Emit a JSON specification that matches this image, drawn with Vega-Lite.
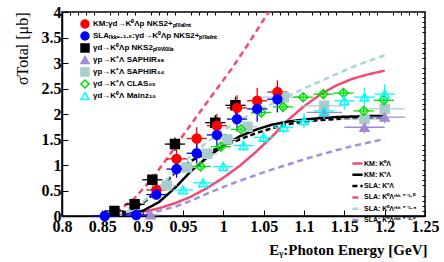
{
  "$schema": "https://vega.github.io/schema/vega-lite/v6.json",
  "width": 363,
  "height": 204,
  "autosize": {"type": "none"},
  "padding": {"left": 62, "top": 12, "right": 19, "bottom": 46},
  "background": "white",
  "config": {
    "view": {"stroke": "#000", "strokeWidth": 1.5},
    "axis": {"domainColor": "#000", "domainWidth": 1.5, "tickColor": "#000", "tickWidth": 1, "grid": false, "labelColor": "#000", "titleColor": "#000"},
    "legend": {"labelFont": "Liberation Sans", "labelFontWeight": "bold", "labelColor": "#000", "padding": 0}
  },
  "datasets": {
    "curves": [
      {"m": "KM0", "x": 0.855, "y": 0}, {"m": "KM0", "x": 0.88, "y": 0.03}, {"m": "KM0", "x": 0.9, "y": 0.08}, {"m": "KM0", "x": 0.92, "y": 0.15}, {"m": "KM0", "x": 0.94, "y": 0.25}, {"m": "KM0", "x": 0.96, "y": 0.38}, {"m": "KM0", "x": 0.98, "y": 0.55}, {"m": "KM0", "x": 1.0, "y": 0.75}, {"m": "KM0", "x": 1.02, "y": 0.98}, {"m": "KM0", "x": 1.04, "y": 1.25}, {"m": "KM0", "x": 1.06, "y": 1.55}, {"m": "KM0", "x": 1.08, "y": 1.88}, {"m": "KM0", "x": 1.1, "y": 2.15}, {"m": "KM0", "x": 1.12, "y": 2.38}, {"m": "KM0", "x": 1.14, "y": 2.56}, {"m": "KM0", "x": 1.16, "y": 2.69}, {"m": "KM0", "x": 1.18, "y": 2.78}, {"m": "KM0", "x": 1.2, "y": 2.85},
      {"m": "KMp", "x": 0.855, "y": 0}, {"m": "KMp", "x": 0.88, "y": 0.03}, {"m": "KMp", "x": 0.9, "y": 0.1}, {"m": "KMp", "x": 0.92, "y": 0.27}, {"m": "KMp", "x": 0.94, "y": 0.55}, {"m": "KMp", "x": 0.96, "y": 0.88}, {"m": "KMp", "x": 0.98, "y": 1.15}, {"m": "KMp", "x": 1.0, "y": 1.38}, {"m": "KMp", "x": 1.02, "y": 1.56}, {"m": "KMp", "x": 1.04, "y": 1.69}, {"m": "KMp", "x": 1.06, "y": 1.79}, {"m": "KMp", "x": 1.08, "y": 1.85}, {"m": "KMp", "x": 1.1, "y": 1.89}, {"m": "KMp", "x": 1.12, "y": 1.92}, {"m": "KMp", "x": 1.14, "y": 1.94}, {"m": "KMp", "x": 1.16, "y": 1.95}, {"m": "KMp", "x": 1.18, "y": 1.96}, {"m": "KMp", "x": 1.2, "y": 1.96},
      {"m": "SLAp", "x": 0.855, "y": 0}, {"m": "SLAp", "x": 0.88, "y": 0.08}, {"m": "SLAp", "x": 0.9, "y": 0.25}, {"m": "SLAp", "x": 0.92, "y": 0.52}, {"m": "SLAp", "x": 0.94, "y": 0.85}, {"m": "SLAp", "x": 0.96, "y": 1.08}, {"m": "SLAp", "x": 0.98, "y": 1.24}, {"m": "SLAp", "x": 1.0, "y": 1.37}, {"m": "SLAp", "x": 1.02, "y": 1.5}, {"m": "SLAp", "x": 1.04, "y": 1.62}, {"m": "SLAp", "x": 1.06, "y": 1.72}, {"m": "SLAp", "x": 1.08, "y": 1.8}, {"m": "SLAp", "x": 1.1, "y": 1.85}, {"m": "SLAp", "x": 1.12, "y": 1.88}, {"m": "SLAp", "x": 1.14, "y": 1.9}, {"m": "SLAp", "x": 1.16, "y": 1.92}, {"m": "SLAp", "x": 1.18, "y": 1.93}, {"m": "SLAp", "x": 1.2, "y": 1.93},
      {"m": "S10", "x": 0.855, "y": 0}, {"m": "S10", "x": 0.87, "y": 0.1}, {"m": "S10", "x": 0.89, "y": 0.35}, {"m": "S10", "x": 0.91, "y": 0.7}, {"m": "S10", "x": 0.93, "y": 1.12}, {"m": "S10", "x": 0.95, "y": 1.58}, {"m": "S10", "x": 0.97, "y": 2.02}, {"m": "S10", "x": 0.99, "y": 2.45}, {"m": "S10", "x": 1.01, "y": 2.88}, {"m": "S10", "x": 1.03, "y": 3.35}, {"m": "S10", "x": 1.05, "y": 3.85}, {"m": "S10", "x": 1.07, "y": 4.3},
      {"m": "S15", "x": 0.855, "y": 0}, {"m": "S15", "x": 0.88, "y": 0.08}, {"m": "S15", "x": 0.9, "y": 0.27}, {"m": "S15", "x": 0.92, "y": 0.55}, {"m": "S15", "x": 0.94, "y": 0.88}, {"m": "S15", "x": 0.96, "y": 1.18}, {"m": "S15", "x": 0.98, "y": 1.45}, {"m": "S15", "x": 1.0, "y": 1.68}, {"m": "S15", "x": 1.02, "y": 1.88}, {"m": "S15", "x": 1.04, "y": 2.05}, {"m": "S15", "x": 1.06, "y": 2.2}, {"m": "S15", "x": 1.08, "y": 2.35}, {"m": "S15", "x": 1.1, "y": 2.5}, {"m": "S15", "x": 1.12, "y": 2.64}, {"m": "S15", "x": 1.14, "y": 2.78}, {"m": "S15", "x": 1.16, "y": 2.92}, {"m": "S15", "x": 1.18, "y": 3.04}, {"m": "S15", "x": 1.2, "y": 3.15},
      {"m": "S20", "x": 0.855, "y": 0}, {"m": "S20", "x": 0.88, "y": 0.02}, {"m": "S20", "x": 0.9, "y": 0.05}, {"m": "S20", "x": 0.92, "y": 0.1}, {"m": "S20", "x": 0.94, "y": 0.18}, {"m": "S20", "x": 0.96, "y": 0.3}, {"m": "S20", "x": 0.98, "y": 0.44}, {"m": "S20", "x": 1.0, "y": 0.57}, {"m": "S20", "x": 1.02, "y": 0.69}, {"m": "S20", "x": 1.04, "y": 0.8}, {"m": "S20", "x": 1.06, "y": 0.91}, {"m": "S20", "x": 1.08, "y": 1.01}, {"m": "S20", "x": 1.1, "y": 1.11}, {"m": "S20", "x": 1.12, "y": 1.2}, {"m": "S20", "x": 1.14, "y": 1.29}, {"m": "S20", "x": 1.16, "y": 1.37}, {"m": "S20", "x": 1.18, "y": 1.44}, {"m": "S20", "x": 1.2, "y": 1.51}
    ],
    "pts": [
      {"s": "S04", "x": 0.93, "y": 0.6, "ylo": 0.52, "yhi": 0.68, "xlo": 0.9175, "xhi": 0.9425},
      {"s": "S04", "x": 0.955, "y": 0.95, "ylo": 0.87, "yhi": 1.03, "xlo": 0.9425, "xhi": 0.9675},
      {"s": "S04", "x": 0.98, "y": 1.22, "ylo": 1.14, "yhi": 1.3, "xlo": 0.9675, "xhi": 0.9925},
      {"s": "S04", "x": 1.005, "y": 1.5, "ylo": 1.42, "yhi": 1.58, "xlo": 0.9925, "xhi": 1.0175},
      {"s": "S04", "x": 1.03, "y": 1.75, "ylo": 1.67, "yhi": 1.83, "xlo": 1.0175, "xhi": 1.0425},
      {"s": "S04", "x": 1.075, "y": 2.33, "ylo": 2.23, "yhi": 2.43, "xlo": 1.045, "xhi": 1.105},
      {"s": "S04", "x": 1.125, "y": 2.16, "ylo": 2.06, "yhi": 2.26, "xlo": 1.095, "xhi": 1.155},
      {"s": "S04", "x": 1.175, "y": 1.9, "ylo": 1.8, "yhi": 2.0, "xlo": 1.145, "xhi": 1.205},
      {"s": "S04", "x": 1.2, "y": 2.1, "ylo": 2.0, "yhi": 2.2, "xlo": 1.175, "xhi": 1.225},
      {"s": "S98", "x": 0.91, "y": 0.02, "ylo": 0.0, "yhi": 0.04, "xlo": 0.9, "xhi": 0.92},
      {"s": "S98", "x": 1.125, "y": 2.03, "ylo": 1.93, "yhi": 2.13, "xlo": 1.103, "xhi": 1.147},
      {"s": "S98", "x": 1.175, "y": 1.74, "ylo": 1.62, "yhi": 1.86, "xlo": 1.15, "xhi": 1.2},
      {"s": "S98", "x": 1.2, "y": 1.94, "ylo": 1.82, "yhi": 2.06, "xlo": 1.175, "xhi": 1.225},
      {"s": "C05", "x": 0.972, "y": 0.97, "ylo": 0.91, "yhi": 1.03, "xlo": 0.9595, "xhi": 0.9845},
      {"s": "C05", "x": 0.997, "y": 1.36, "ylo": 1.3, "yhi": 1.42, "xlo": 0.9845, "xhi": 1.0095},
      {"s": "C05", "x": 1.022, "y": 1.7, "ylo": 1.64, "yhi": 1.76, "xlo": 1.0095, "xhi": 1.0345},
      {"s": "C05", "x": 1.047, "y": 2.03, "ylo": 1.97, "yhi": 2.09, "xlo": 1.0345, "xhi": 1.0595},
      {"s": "C05", "x": 1.074, "y": 2.14, "ylo": 2.08, "yhi": 2.2, "xlo": 1.0615, "xhi": 1.0865},
      {"s": "C05", "x": 1.099, "y": 2.33, "ylo": 2.27, "yhi": 2.39, "xlo": 1.0865, "xhi": 1.1115},
      {"s": "C05", "x": 1.124, "y": 2.39, "ylo": 2.33, "yhi": 2.45, "xlo": 1.1115, "xhi": 1.1365},
      {"s": "C05", "x": 1.149, "y": 2.41, "ylo": 2.35, "yhi": 2.47, "xlo": 1.1365, "xhi": 1.1615},
      {"s": "C05", "x": 1.174, "y": 2.06, "ylo": 2.0, "yhi": 2.12, "xlo": 1.1615, "xhi": 1.1865},
      {"s": "C05", "x": 1.199, "y": 2.27, "ylo": 2.2, "yhi": 2.34, "xlo": 1.1865, "xhi": 1.2115},
      {"s": "M10", "x": 0.95, "y": 0.51, "ylo": 0.43, "yhi": 0.59, "xlo": 0.9375, "xhi": 0.9625},
      {"s": "M10", "x": 0.975, "y": 0.65, "ylo": 0.57, "yhi": 0.73, "xlo": 0.9625, "xhi": 0.9875},
      {"s": "M10", "x": 1.0, "y": 0.97, "ylo": 0.88, "yhi": 1.06, "xlo": 0.9875, "xhi": 1.0125},
      {"s": "M10", "x": 1.025, "y": 1.38, "ylo": 1.28, "yhi": 1.48, "xlo": 1.0125, "xhi": 1.0375},
      {"s": "M10", "x": 1.05, "y": 1.54, "ylo": 1.43, "yhi": 1.65, "xlo": 1.0375, "xhi": 1.0625},
      {"s": "M10", "x": 1.075, "y": 1.74, "ylo": 1.62, "yhi": 1.86, "xlo": 1.0625, "xhi": 1.0875},
      {"s": "M10", "x": 1.1, "y": 1.87, "ylo": 1.72, "yhi": 2.02, "xlo": 1.0875, "xhi": 1.1125},
      {"s": "M10", "x": 1.125, "y": 2.06, "ylo": 1.9, "yhi": 2.22, "xlo": 1.1125, "xhi": 1.1375},
      {"s": "M10", "x": 1.15, "y": 2.26, "ylo": 2.08, "yhi": 2.44, "xlo": 1.1375, "xhi": 1.1625},
      {"s": "M10", "x": 1.175, "y": 2.33, "ylo": 2.15, "yhi": 2.51, "xlo": 1.1625, "xhi": 1.1875},
      {"s": "M10", "x": 1.2, "y": 2.39, "ylo": 2.2, "yhi": 2.58, "xlo": 1.1875, "xhi": 1.2125},
      {"s": "N2", "x": 0.865, "y": 0.1, "ylo": 0.05, "yhi": 0.15, "xlo": 0.8525, "xhi": 0.8775},
      {"s": "N2", "x": 0.89, "y": 0.23, "ylo": 0.15, "yhi": 0.31, "xlo": 0.8775, "xhi": 0.9025},
      {"s": "N2", "x": 0.912, "y": 0.71, "ylo": 0.6, "yhi": 0.82, "xlo": 0.8995, "xhi": 0.9245},
      {"s": "N2", "x": 0.94, "y": 1.41, "ylo": 1.28, "yhi": 1.54, "xlo": 0.9275, "xhi": 0.9525},
      {"s": "N2", "x": 0.99, "y": 1.83, "ylo": 1.68, "yhi": 1.98, "xlo": 0.9775, "xhi": 1.0025},
      {"s": "N2", "x": 1.015, "y": 2.17, "ylo": 2.0, "yhi": 2.34, "xlo": 1.0025, "xhi": 1.0275},
      {"s": "KM", "x": 0.917, "y": 0.51, "ylo": 0.33, "yhi": 0.69, "xlo": 0.9045, "xhi": 0.9295},
      {"s": "KM", "x": 0.942, "y": 1.12, "ylo": 0.92, "yhi": 1.32, "xlo": 0.9295, "xhi": 0.9545},
      {"s": "KM", "x": 0.967, "y": 1.52, "ylo": 1.3, "yhi": 1.74, "xlo": 0.9545, "xhi": 0.9795},
      {"s": "KM", "x": 0.992, "y": 1.77, "ylo": 1.54, "yhi": 2.0, "xlo": 0.9795, "xhi": 1.0045},
      {"s": "KM", "x": 1.017, "y": 2.12, "ylo": 1.87, "yhi": 2.37, "xlo": 1.0045, "xhi": 1.0295},
      {"s": "KM", "x": 1.042, "y": 2.26, "ylo": 2.01, "yhi": 2.51, "xlo": 1.0295, "xhi": 1.0545},
      {"s": "KM", "x": 1.067, "y": 2.43, "ylo": 2.17, "yhi": 2.66, "xlo": 1.0545, "xhi": 1.0795},
      {"s": "SLA", "x": 0.853, "y": 0.0, "ylo": 0.0, "yhi": 0.03, "xlo": 0.8365, "xhi": 0.8695},
      {"s": "SLA", "x": 0.892, "y": 0.02, "ylo": 0.0, "yhi": 0.05, "xlo": 0.877, "xhi": 0.907},
      {"s": "SLA", "x": 0.917, "y": 0.42, "ylo": 0.32, "yhi": 0.52, "xlo": 0.9045, "xhi": 0.9295},
      {"s": "SLA", "x": 0.942, "y": 0.92, "ylo": 0.75, "yhi": 1.09, "xlo": 0.9295, "xhi": 0.9545},
      {"s": "SLA", "x": 0.967, "y": 1.23, "ylo": 1.03, "yhi": 1.43, "xlo": 0.9545, "xhi": 0.9795},
      {"s": "SLA", "x": 0.992, "y": 1.59, "ylo": 1.37, "yhi": 1.81, "xlo": 0.9795, "xhi": 1.0045},
      {"s": "SLA", "x": 1.017, "y": 1.9, "ylo": 1.66, "yhi": 2.14, "xlo": 1.0045, "xhi": 1.0295},
      {"s": "SLA", "x": 1.042, "y": 2.1, "ylo": 1.85, "yhi": 2.35, "xlo": 1.0295, "xhi": 1.0545},
      {"s": "SLA", "x": 1.067, "y": 2.29, "ylo": 2.03, "yhi": 2.55, "xlo": 1.0545, "xhi": 1.0795}
    ]
  },
  "data": {"name": "pts"},
  "layer": [
    {
      "data": {"name": "curves"},
      "mark": {"type": "line", "strokeWidth": 2.5, "clip": true},
      "encoding": {
        "x": {"field": "x", "type": "quantitative", "scale": {"domain": [0.8, 1.25], "nice": false, "zero": false},
          "axis": {"values": [0.8, 0.85, 0.9, 0.95, 1.0, 1.05, 1.1, 1.15, 1.2, 1.25], "format": ".2~f", "tickSize": -6, "labelPadding": 8, "labelFont": "Liberation Serif", "labelFontWeight": "bold", "labelFontSize": 16, "labelFlush": false, "labelOverlap": false,
            "title": "Eᵧ:Photon Energy [GeV]", "titleFont": "Liberation Serif", "titleFontSize": 15, "titleFontWeight": "bold", "titleAlign": "right", "titleAnchor": "end", "titleX": 365, "titleY": 38, "titleBaseline": "alphabetic"}},
        "y": {"field": "y", "type": "quantitative", "scale": {"domain": [0, 4], "nice": false, "zero": false},
          "axis": {"values": [0, 0.5, 1, 1.5, 2, 2.5, 3, 3.5, 4], "format": ".1~f", "tickSize": -6, "labelPadding": 7, "labelFont": "Liberation Serif", "labelFontWeight": "bold", "labelFontSize": 16, "labelFlush": false, "labelOverlap": false,
            "title": "σTotal [μb]", "titleFont": "Liberation Serif", "titleFontSize": 16, "titleFontWeight": "normal", "titleAngle": 270, "titleAlign": "right", "titleAnchor": "end", "titleX": -40, "titleY": 0, "titleBaseline": "middle"}},
        "color": {"field": "m", "type": "nominal",
          "scale": {"domain": ["KM0", "KMp", "SLAp", "S10", "S15", "S20"], "range": ["#f24a72", "#000000", "#000000", "#f24a72", "#a9d6d6", "#a58fdc"]},
          "legend": {"orient": "none", "legendX": 291, "legendY": 147, "title": null, "symbolType": "M-1.7,0H1.7", "symbolSize": 36, "symbolStrokeWidth": 2.5, "labelFontSize": 7, "rowPadding": 0.3, "labelOffset": 2,
            "labelExpr": "{'KM0':'KM: K⁰Λ','KMp':'KM: K⁺Λ','SLAp':'SLA: K⁺Λ','S10':'SLA: K⁰Λʳᵏᵏ ⁼ ⁻¹·⁰','S15':'SLA: K⁰Λʳᵏᵏ ⁼ ⁻¹·⁵','S20':'SLA: K⁰Λʳᵏᵏ ⁼ ⁻²·⁰'}[datum.label]"}},
        "strokeDash": {"field": "m", "type": "nominal",
          "scale": {"domain": ["KM0", "KMp", "SLAp", "S10", "S15", "S20"], "range": [[1, 0], [1, 0], [5, 3], [6, 4], [6, 4], [6, 4]]},
          "legend": {"orient": "none", "legendX": 291, "legendY": 147, "title": null, "symbolType": "M-1.7,0H1.7", "symbolSize": 36, "symbolStrokeWidth": 2.5, "labelFontSize": 7, "rowPadding": 0.3, "labelOffset": 2,
            "labelExpr": "{'KM0':'KM: K⁰Λ','KMp':'KM: K⁺Λ','SLAp':'SLA: K⁺Λ','S10':'SLA: K⁰Λʳᵏᵏ ⁼ ⁻¹·⁰','S15':'SLA: K⁰Λʳᵏᵏ ⁼ ⁻¹·⁵','S20':'SLA: K⁰Λʳᵏᵏ ⁼ ⁻²·⁰'}[datum.label]"}}
      }
    },
    {
      "mark": {"type": "rule", "strokeWidth": 1.3},
      "encoding": {
        "x": {"field": "x", "type": "quantitative", "axis": null},
        "y": {"field": "ylo", "type": "quantitative", "axis": null},
        "y2": {"field": "yhi"},
        "stroke": {"field": "s", "type": "nominal",
          "legend": {"orient": "none", "legendX": 18, "legendY": 7, "title": null, "symbolSize": 64, "symbolStrokeWidth": 1.5, "labelFontSize": 8, "rowPadding": -2.5, "labelOffset": 3,
            "labelExpr": "{'KM':'KM:γd→K⁰Λp NKS2+ₚᵣₑₛₑₙₜ','SLA':'SLAᵣₖₖ₌₋₁.₅:γd→K⁰Λp NKS2+ₚᵣₑₛₑₙₜ','N2':'γd→K⁰Λp NKS2ₚᵣₑᵥᵢₒᵤₛ','S98':'γp→K⁺Λ SAPHIR₉₈','S04':'γp→K⁺Λ SAPHIR₀₄','C05':'γd→K⁺Λ CLAS₀₅','M10':'γd→K⁰Λ Mainz₁₀'}[datum.label]"}}
      }
    },
    {
      "mark": {"type": "rule", "strokeWidth": 1.3},
      "encoding": {
        "x": {"field": "xlo", "type": "quantitative", "axis": null},
        "x2": {"field": "xhi"},
        "y": {"field": "y", "type": "quantitative", "axis": null},
        "stroke": {"field": "s", "type": "nominal",
          "legend": {"orient": "none", "legendX": 18, "legendY": 7, "title": null, "symbolSize": 64, "symbolStrokeWidth": 1.5, "labelFontSize": 8, "rowPadding": -2.5, "labelOffset": 3,
            "labelExpr": "{'KM':'KM:γd→K⁰Λp NKS2+ₚᵣₑₛₑₙₜ','SLA':'SLAᵣₖₖ₌₋₁.₅:γd→K⁰Λp NKS2+ₚᵣₑₛₑₙₜ','N2':'γd→K⁰Λp NKS2ₚᵣₑᵥᵢₒᵤₛ','S98':'γp→K⁺Λ SAPHIR₉₈','S04':'γp→K⁺Λ SAPHIR₀₄','C05':'γd→K⁺Λ CLAS₀₅','M10':'γd→K⁰Λ Mainz₁₀'}[datum.label]"}}
      }
    },
    {
      "mark": {"type": "point", "size": 80, "strokeWidth": 1.5, "opacity": 1},
      "encoding": {
        "x": {"field": "x", "type": "quantitative",
          "axis": {"values": [0.81, 0.82, 0.83, 0.84, 0.86, 0.87, 0.88, 0.89, 0.91, 0.92, 0.93, 0.94, 0.96, 0.97, 0.98, 0.99, 1.01, 1.02, 1.03, 1.04, 1.06, 1.07, 1.08, 1.09, 1.11, 1.12, 1.13, 1.14, 1.16, 1.17, 1.18, 1.19, 1.21, 1.22, 1.23, 1.24], "labels": false, "domain": false, "tickSize": -3, "title": null}},
        "y": {"field": "y", "type": "quantitative",
          "axis": {"values": [0.1, 0.2, 0.3, 0.4, 0.6, 0.7, 0.8, 0.9, 1.1, 1.2, 1.3, 1.4, 1.6, 1.7, 1.8, 1.9, 2.1, 2.2, 2.3, 2.4, 2.6, 2.7, 2.8, 2.9, 3.1, 3.2, 3.3, 3.4, 3.6, 3.7, 3.8, 3.9], "labels": false, "domain": false, "tickSize": -3, "title": null}},
        "shape": {"field": "s", "type": "nominal",
          "scale": {"domain": ["KM", "SLA", "N2", "S98", "S04", "C05", "M10"], "range": ["circle", "circle", "square", "triangle-up", "square", "diamond", "triangle-up"]},
          "legend": {"orient": "none", "legendX": 18, "legendY": 7, "title": null, "symbolSize": 64, "symbolStrokeWidth": 1.5, "labelFontSize": 8, "rowPadding": -2.5, "labelOffset": 3,
            "labelExpr": "{'KM':'KM:γd→K⁰Λp NKS2+ₚᵣₑₛₑₙₜ','SLA':'SLAᵣₖₖ₌₋₁.₅:γd→K⁰Λp NKS2+ₚᵣₑₛₑₙₜ','N2':'γd→K⁰Λp NKS2ₚᵣₑᵥᵢₒᵤₛ','S98':'γp→K⁺Λ SAPHIR₉₈','S04':'γp→K⁺Λ SAPHIR₀₄','C05':'γd→K⁺Λ CLAS₀₅','M10':'γd→K⁰Λ Mainz₁₀'}[datum.label]"}},
        "fill": {"field": "s", "type": "nominal",
          "scale": {"domain": ["KM", "SLA", "N2", "S98", "S04", "C05", "M10"], "range": ["#ff0000", "#0000ff", "#000000", "#a08ad6", "#a9cccc", "transparent", "transparent"]},
          "legend": {"orient": "none", "legendX": 18, "legendY": 7, "title": null, "symbolSize": 64, "symbolStrokeWidth": 1.5, "labelFontSize": 8, "rowPadding": -2.5, "labelOffset": 3,
            "labelExpr": "{'KM':'KM:γd→K⁰Λp NKS2+ₚᵣₑₛₑₙₜ','SLA':'SLAᵣₖₖ₌₋₁.₅:γd→K⁰Λp NKS2+ₚᵣₑₛₑₙₜ','N2':'γd→K⁰Λp NKS2ₚᵣₑᵥᵢₒᵤₛ','S98':'γp→K⁺Λ SAPHIR₉₈','S04':'γp→K⁺Λ SAPHIR₀₄','C05':'γd→K⁺Λ CLAS₀₅','M10':'γd→K⁰Λ Mainz₁₀'}[datum.label]"}},
        "stroke": {"field": "s", "type": "nominal",
          "scale": {"domain": ["KM", "SLA", "N2", "S98", "S04", "C05", "M10"], "range": ["#ff0000", "#0000ff", "#000000", "#a08ad6", "#a9cccc", "#00e000", "#00ffff"]},
          "legend": {"orient": "none", "legendX": 18, "legendY": 7, "title": null, "symbolSize": 64, "symbolStrokeWidth": 1.5, "labelFontSize": 8, "rowPadding": -2.5, "labelOffset": 3,
            "labelExpr": "{'KM':'KM:γd→K⁰Λp NKS2+ₚᵣₑₛₑₙₜ','SLA':'SLAᵣₖₖ₌₋₁.₅:γd→K⁰Λp NKS2+ₚᵣₑₛₑₙₜ','N2':'γd→K⁰Λp NKS2ₚᵣₑᵥᵢₒᵤₛ','S98':'γp→K⁺Λ SAPHIR₉₈','S04':'γp→K⁺Λ SAPHIR₀₄','C05':'γd→K⁺Λ CLAS₀₅','M10':'γd→K⁰Λ Mainz₁₀'}[datum.label]"}}
      }
    }
  ],
  "resolve": {"axis": {"x": "independent", "y": "independent"}}
}
